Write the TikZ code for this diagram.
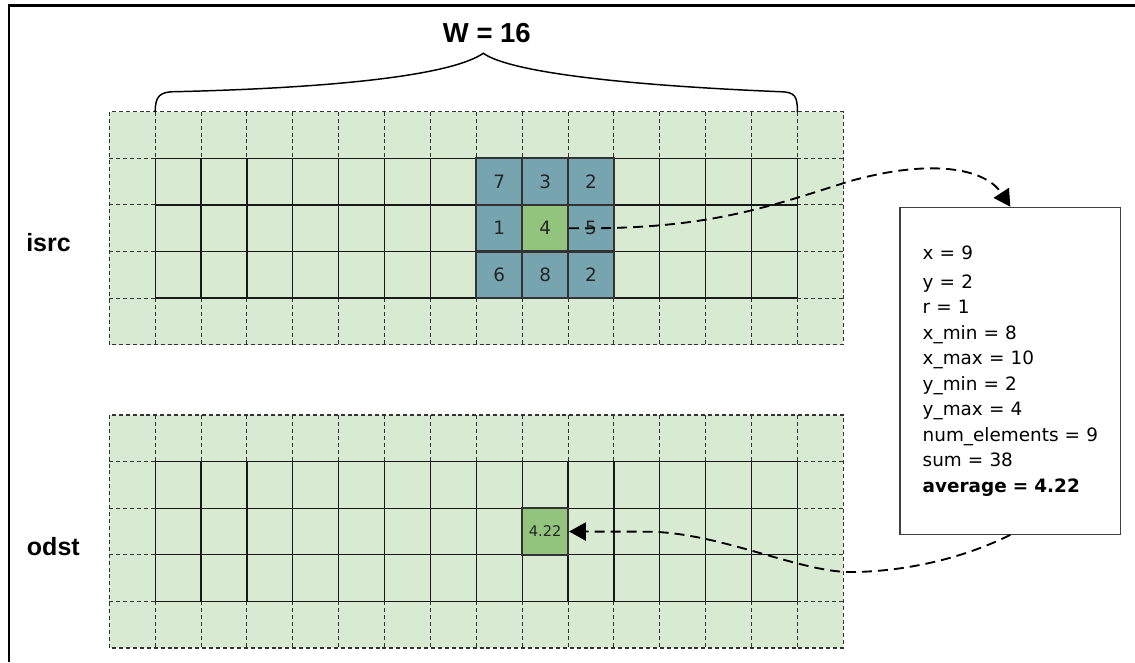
\documentclass[tikz,border=0pt]{standalone}
\usepackage{fontspec}
\setmainfont{DejaVu Sans}
\newfontfamily\labfont{Liberation Sans}
\usetikzlibrary{arrows.meta}
\definecolor{gfill}{HTML}{D9EAD3}
\definecolor{bcell}{HTML}{76A5AF}
\definecolor{gcell}{HTML}{93C47D}
\begin{document}
\begin{tikzpicture}[x=0.75pt,y=-0.75pt,
  dashline/.style={draw=black!80,line width=0.8pt,dash pattern=on 3pt off 2.2pt},
  solidline/.style={draw=black!90,line width=1pt},
  cellbox/.style={draw=black!80,line width=1.6pt,inner sep=0pt,minimum width=34.406pt,minimum height=34.95pt,text=black!85,font=\fontsize{13.8}{16}\selectfont},
  bluecell/.style={cellbox,fill=bcell},
  greencell/.style={cellbox,fill=gcell},
  lab/.style={inner sep=0pt,font=\labfont\bfseries\fontsize{18.75}{20}\selectfont},
  calcbox/.style={draw=black!75,line width=0.8pt,align=left,text width=131.5pt,inner xsep=17pt,inner ysep=0pt,minimum height=245.25pt,font=\fontsize{13.8}{19.1}\selectfont},
  flow/.style={line width=1.4pt,dash pattern=on 7.5pt off 4.5pt,-{Triangle[length=12.5pt,width=13.5pt]}},
  bracepath/.style={line width=1.1pt,line cap=round}
]
\useasboundingbox (0,0) rectangle (1135,662);
% frame
\draw[line width=2.2pt] (9,662) -- (9,5.5) -- (1135,5.5);

% isrc grid
\begin{scope}[shift={(109.3,111.7)},x=34.406pt,y=-34.95pt]
  \fill[gfill] (0,0) rectangle (16,5);
  \draw[dashline] (0,0) rectangle (16,5);
  \foreach \i in {1,...,15} {\draw[dashline] (\i,0) -- (\i,1); \draw[dashline] (\i,4) -- (\i,5);}
  \foreach \j in {1,...,4} {\draw[dashline] (0,\j) -- (1,\j); \draw[dashline] (15,\j) -- (16,\j);}
  \foreach \i in {1,...,15} \draw[solidline] (\i,1) -- (\i,4);
  \foreach \j in {1,...,4} \draw[solidline] (1,\j) -- (15,\j);
  \node[bluecell] (n7) at (8.5,1.5) {7};
  \node[bluecell] (n3) at (9.5,1.5) {3};
  \node[bluecell] (n2a) at (10.5,1.5) {2};
  \node[bluecell] (n1) at (8.5,2.5) {1};
  \node[greencell] (c4) at (9.5,2.5) {4};
  \node[bluecell] (n5) at (10.5,2.5) {5};
  \node[bluecell] (n6) at (8.5,3.5) {6};
  \node[bluecell] (n8) at (9.5,3.5) {8};
  \node[bluecell] (n2b) at (10.5,3.5) {2};
\end{scope}

% odst grid
\begin{scope}[shift={(109.3,415)},x=34.406pt,y=-34.95pt]
  \fill[gfill] (0,0) rectangle (16,5);
  \draw[dashline] (0,0) rectangle (16,5);
  \foreach \i in {1,...,15} {\draw[dashline] (\i,0) -- (\i,1); \draw[dashline] (\i,4) -- (\i,5);}
  \foreach \j in {1,...,4} {\draw[dashline] (0,\j) -- (1,\j); \draw[dashline] (15,\j) -- (16,\j);}
  \foreach \i in {1,...,15} \draw[solidline] (\i,1) -- (\i,4);
  \foreach \j in {1,...,4} \draw[solidline] (1,\j) -- (15,\j);
  \node[greencell,font=\fontsize{11}{13}\selectfont] (r) at (9.5,2.5) {4.22};
\end{scope}

% labels
\node[lab,anchor=base west] (isrc) at (26,251.7) {isrc};
\node[lab,anchor=base west] (odst) at (26.7,555) {odst};
\node[inner sep=0pt,anchor=base west,font=\labfont\bfseries\fontsize{20.6}{22}\selectfont] (w) at (442.7,42.7) {W = 16};

% brace
\coordinate (bl) at (155.2,111.7);
\coordinate (br) at (797.4,111.7);
\coordinate (bt) at (483.3,53.3);
\draw[bracepath] (bl) .. controls (155.2,96) and (160,91.7) .. (175,91.7)
  .. controls (330,88) and (450,76) .. (bt)
  .. controls (510,72) and (620,85) .. (780,91.7)
  .. controls (795,92) and (797.4,96) .. (br);

% calc box
\node[calcbox] (box) at (1010.35,370.8) {\vspace{3pt}x = 9\\y = 2\\r = 1\\x\_min = 8\\x\_max = 10\\y\_min = 2\\y\_max = 4\\num\_elements = 9\\sum = 38\\\textbf{average = 4.22}};

% arrows
\draw[flow] (c4.east) .. controls (700,230) and (760,210) .. (847,182)
  .. controls (930,158) and (985,168) .. (box.north);
\draw[flow] (box.south) .. controls (960,560) and (900,572) .. (850,572)
  .. controls (800,572) and (720,533) .. (650,531.7) -- (r.east);
\end{tikzpicture}
\end{document}
